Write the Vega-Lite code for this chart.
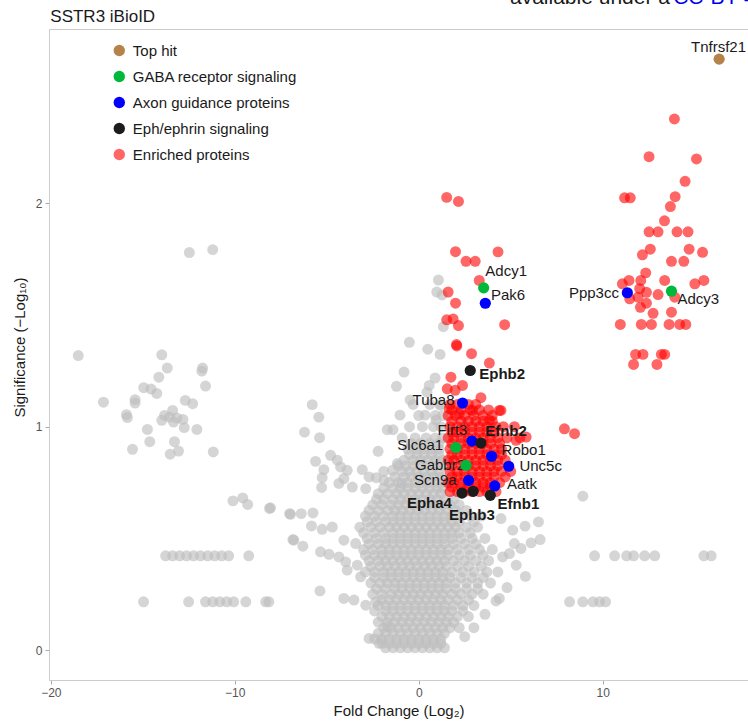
{
"$schema":"https://vega.github.io/schema/vega-lite/v6.json",
"width":699,"height":651,
"autosize":{"type":"none"},
"padding":{"left":49,"top":29,"right":0,"bottom":47},
"background":"white",
"config":{
 "view":{"stroke":"#cccccc","strokeWidth":1},
 "axis":{"grid":false,"domain":true,"domainColor":"#cccccc","tickColor":"#aaaaaa","tickSize":4,"labelFont":"Liberation Sans","labelFontSize":12,"labelColor":"#555555","titleFont":"Liberation Sans","titleFontSize":15,"titleFontWeight":"normal","titleColor":"#1a1a1a"},
 "legend":{"orient":"none","legendX":62.8,"legendY":14,"padding":0,"symbolType":"circle","symbolSize":130,"symbolStrokeWidth":0,"symbolOpacity":1,"labelFont":"Liberation Sans","labelFontSize":15,"labelColor":"#1a1a1a","labelOffset":6,"rowPadding":10,"labelLimit":400}
},
"datasets":{
"grey":[
{"fc":-12.47,"sig":1.78},{"fc":-11.2,"sig":1.793},{"fc":-18.51,"sig":1.319},{"fc":-13.97,"sig":1.322},{"fc":-13.67,"sig":1.263},{"fc":-11.75,"sig":1.263},{"fc":-11.79,"sig":1.249},{"fc":-14.13,"sig":1.222},{"fc":-11.59,"sig":1.182},{"fc":-14.95,"sig":1.175},{"fc":-14.55,"sig":1.169},{"fc":-14.24,"sig":1.149},{"fc":-17.14,"sig":1.11},{"fc":-15.42,"sig":1.121},{"fc":-15.42,"sig":1.106},{"fc":-12.69,"sig":1.118},{"fc":-12.29,"sig":1.103},{"fc":-15.89,"sig":1.054},{"fc":-15.84,"sig":1.041},{"fc":-13.38,"sig":1.073},{"fc":-13.82,"sig":1.051},{"fc":-13.55,"sig":1.043},{"fc":-13.97,"sig":1.029},{"fc":-13.15,"sig":1.039},{"fc":-12.82,"sig":1.033},{"fc":-13.33,"sig":1.021},{"fc":-12.75,"sig":0.996},{"fc":-12.06,"sig":0.988},{"fc":-14.75,"sig":0.988},{"fc":-14.62,"sig":0.933},{"fc":-13.28,"sig":0.933},{"fc":-15.56,"sig":0.899},{"fc":-13.06,"sig":0.891},{"fc":-13.51,"sig":0.877},{"fc":-11.17,"sig":0.887},
{"fc":-13.76,"sig":0.422},{"fc":-13.38,"sig":0.422},{"fc":-13.0,"sig":0.422},{"fc":-12.62,"sig":0.422},{"fc":-12.24,"sig":0.422},{"fc":-11.86,"sig":0.422},{"fc":-11.47,"sig":0.422},{"fc":-11.09,"sig":0.422},{"fc":-10.71,"sig":0.422},{"fc":-10.33,"sig":0.422},{"fc":-9.24,"sig":0.422},
{"fc":-14.96,"sig":0.216},{"fc":-12.51,"sig":0.216},{"fc":-11.59,"sig":0.216},{"fc":-11.2,"sig":0.216},{"fc":-10.82,"sig":0.216},{"fc":-10.44,"sig":0.216},{"fc":-10.06,"sig":0.216},{"fc":-9.4,"sig":0.216},{"fc":-8.32,"sig":0.216},
{"fc":-10.1,"sig":0.668},{"fc":-9.57,"sig":0.681},{"fc":-9.3,"sig":0.652},{"fc":-8.11,"sig":0.634},{"fc":-6.97,"sig":0.608},{"fc":-6.79,"sig":0.492},
{"fc":-1.21,"sig":1.181},{"fc":0.57,"sig":1.185},{"fc":-5.79,"sig":1.099},{"fc":-5.43,"sig":1.043},{"fc":-6.21,"sig":0.976},{"fc":-5.39,"sig":0.951},{"fc":-1.71,"sig":0.987},{"fc":-1.4,"sig":0.987},{"fc":-2.21,"sig":0.89},{"fc":-5.61,"sig":0.845},{"fc":-4.79,"sig":0.872},{"fc":-4.43,"sig":0.85},{"fc":-5.16,"sig":0.808},{"fc":-5.25,"sig":0.772},{"fc":-4.25,"sig":0.82},{"fc":-3.89,"sig":0.805},{"fc":-4.07,"sig":0.768},{"fc":-3.07,"sig":0.808},{"fc":-2.7,"sig":0.775},{"fc":-2.31,"sig":0.772},{"fc":-1.89,"sig":0.76},{"fc":-1.16,"sig":0.835},{"fc":-1.43,"sig":0.805},{"fc":-5.28,"sig":0.728},{"fc":-4.34,"sig":0.746},{"fc":-3.61,"sig":0.73},{"fc":-2.88,"sig":0.723},{"fc":-0.92,"sig":0.746},{"fc":-8.06,"sig":0.637},{"fc":-7.02,"sig":0.611},{"fc":-6.39,"sig":0.611},{"fc":-5.75,"sig":0.614},{"fc":-5.83,"sig":0.556},{"fc":-5.25,"sig":0.541},{"fc":-4.7,"sig":0.551},{"fc":-6.84,"sig":0.495},{"fc":-6.3,"sig":0.465},{"fc":-5.34,"sig":0.44},{"fc":-4.88,"sig":0.429},{"fc":-4.34,"sig":0.417},{"fc":-4.07,"sig":0.492},{"fc":-3.43,"sig":0.477},{"fc":-3.97,"sig":0.395},{"fc":-3.34,"sig":0.38},{"fc":-3.89,"sig":0.358},{"fc":-3.16,"sig":0.328},{"fc":-5.37,"sig":0.265},{"fc":-4.07,"sig":0.231},{"fc":-3.52,"sig":0.224},{"fc":-2.88,"sig":0.201},{"fc":-2.34,"sig":0.216},{"fc":-8.15,"sig":0.216},{"fc":-2.7,"sig":0.052},{"fc":-2.16,"sig":0.03},{"fc":-1.71,"sig":0.104},
{"fc":8.92,"sig":0.689},{"fc":6.51,"sig":0.574},{"fc":5.78,"sig":0.555},{"fc":5.11,"sig":0.537},{"fc":6.6,"sig":0.495},{"fc":6.11,"sig":0.48},{"fc":5.56,"sig":0.455},{"fc":5.2,"sig":0.477},{"fc":4.93,"sig":0.432},{"fc":4.56,"sig":0.417},{"fc":4.47,"sig":0.589},{"fc":9.56,"sig":0.422},{"fc":10.65,"sig":0.422},{"fc":11.3,"sig":0.422},{"fc":11.68,"sig":0.422},{"fc":12.28,"sig":0.422},{"fc":12.83,"sig":0.422},{"fc":8.2,"sig":0.216},{"fc":8.92,"sig":0.216},{"fc":9.47,"sig":0.216},{"fc":9.83,"sig":0.216},{"fc":10.16,"sig":0.216},{"fc":4.38,"sig":0.231},{"fc":15.5,"sig":0.422},{"fc":15.9,"sig":0.422},
{"fc":5.3,"sig":0.38},{"fc":5.8,"sig":0.33},{"fc":4.8,"sig":0.28},{"fc":4.2,"sig":0.22},{"fc":3.6,"sig":0.16},{"fc":3.0,"sig":0.1},{"fc":2.5,"sig":0.06},
{"fc":1.07,"sig":1.657},{"fc":0.98,"sig":1.603},{"fc":1.27,"sig":1.59},{"fc":1.34,"sig":1.448},{"fc":-0.51,"sig":1.378},{"fc":0.49,"sig":1.347},{"fc":1.16,"sig":1.324},{"fc":-0.8,"sig":1.245},{"fc":0.89,"sig":1.218},{"fc":0.45,"sig":1.155},{"fc":-0.47,"sig":1.12},{"fc":1.16,"sig":1.097},{"fc":0.34,"sig":1.052},{"fc":0.94,"sig":1.03},{"fc":-1.02,"sig":1.052},
{"fc":-1.8,"sig":0.01},{"fc":-1.4,"sig":0.01},{"fc":-1.0,"sig":0.01},{"fc":-0.6,"sig":0.01},{"fc":-0.2,"sig":0.01},{"fc":0.2,"sig":0.01},{"fc":0.6,"sig":0.01},{"fc":1.0,"sig":0.01},{"fc":1.4,"sig":0.01},
{"fc":-2.4,"sig":0.05},{"fc":-2.0,"sig":0.05},{"fc":-1.6,"sig":0.05},{"fc":-1.2,"sig":0.05},{"fc":-0.8,"sig":0.05},{"fc":-0.4,"sig":0.05},{"fc":0.0,"sig":0.05},{"fc":0.4,"sig":0.05},{"fc":0.8,"sig":0.05},{"fc":1.2,"sig":0.05},
{"fc":-1.9,"sig":0.1},{"fc":-1.5,"sig":0.1},{"fc":-1.1,"sig":0.1},{"fc":-0.7,"sig":0.1},{"fc":-0.3,"sig":0.1},{"fc":0.1,"sig":0.1},{"fc":0.5,"sig":0.1},{"fc":0.9,"sig":0.1},{"fc":1.3,"sig":0.1},{"fc":1.7,"sig":0.1},{"fc":2.2,"sig":0.1},
{"fc":-2.0,"sig":0.15},{"fc":-1.6,"sig":0.15},{"fc":-1.2,"sig":0.15},{"fc":-0.8,"sig":0.15},{"fc":-0.4,"sig":0.15},{"fc":0.0,"sig":0.15},{"fc":0.4,"sig":0.15},{"fc":0.8,"sig":0.15},{"fc":1.2,"sig":0.15},{"fc":1.6,"sig":0.15},{"fc":2.1,"sig":0.15},{"fc":2.7,"sig":0.15},
{"fc":-2.2,"sig":0.2},{"fc":-1.8,"sig":0.2},{"fc":-1.4,"sig":0.2},{"fc":-1.0,"sig":0.2},{"fc":-0.6,"sig":0.2},{"fc":-0.2,"sig":0.2},{"fc":0.2,"sig":0.2},{"fc":0.6,"sig":0.2},{"fc":1.0,"sig":0.2},{"fc":1.4,"sig":0.2},{"fc":1.9,"sig":0.2},{"fc":2.4,"sig":0.2},{"fc":3.0,"sig":0.2},
{"fc":-2.5,"sig":0.25},{"fc":-2.0,"sig":0.25},{"fc":-1.5,"sig":0.25},{"fc":-1.1,"sig":0.25},{"fc":-0.7,"sig":0.25},{"fc":-0.3,"sig":0.25},{"fc":0.1,"sig":0.25},{"fc":0.5,"sig":0.25},{"fc":0.9,"sig":0.25},{"fc":1.3,"sig":0.25},{"fc":1.8,"sig":0.25},{"fc":2.3,"sig":0.25},{"fc":2.9,"sig":0.25},{"fc":3.5,"sig":0.25},
{"fc":-2.6,"sig":0.3},{"fc":-2.1,"sig":0.3},{"fc":-1.7,"sig":0.3},{"fc":-1.3,"sig":0.3},{"fc":-0.9,"sig":0.3},{"fc":-0.5,"sig":0.3},{"fc":-0.1,"sig":0.3},{"fc":0.3,"sig":0.3},{"fc":0.7,"sig":0.3},{"fc":1.1,"sig":0.3},{"fc":1.5,"sig":0.3},{"fc":2.0,"sig":0.3},{"fc":2.6,"sig":0.3},{"fc":3.2,"sig":0.3},{"fc":3.9,"sig":0.3},
{"fc":-2.9,"sig":0.35},{"fc":-2.4,"sig":0.35},{"fc":-1.9,"sig":0.35},{"fc":-1.5,"sig":0.35},{"fc":-1.1,"sig":0.35},{"fc":-0.7,"sig":0.35},{"fc":-0.3,"sig":0.35},{"fc":0.1,"sig":0.35},{"fc":0.5,"sig":0.35},{"fc":0.9,"sig":0.35},{"fc":1.3,"sig":0.35},{"fc":1.8,"sig":0.35},{"fc":2.4,"sig":0.35},{"fc":3.0,"sig":0.35},{"fc":3.7,"sig":0.35},{"fc":4.3,"sig":0.35},
{"fc":-2.7,"sig":0.4},{"fc":-2.2,"sig":0.4},{"fc":-1.8,"sig":0.4},{"fc":-1.4,"sig":0.4},{"fc":-1.0,"sig":0.4},{"fc":-0.6,"sig":0.4},{"fc":-0.2,"sig":0.4},{"fc":0.2,"sig":0.4},{"fc":0.6,"sig":0.4},{"fc":1.0,"sig":0.4},{"fc":1.4,"sig":0.4},{"fc":1.9,"sig":0.4},{"fc":2.5,"sig":0.4},{"fc":3.1,"sig":0.4},{"fc":3.8,"sig":0.4},
{"fc":-3.0,"sig":0.45},{"fc":-2.5,"sig":0.45},{"fc":-2.0,"sig":0.45},{"fc":-1.6,"sig":0.45},{"fc":-1.2,"sig":0.45},{"fc":-0.8,"sig":0.45},{"fc":-0.4,"sig":0.45},{"fc":0.0,"sig":0.45},{"fc":0.4,"sig":0.45},{"fc":0.8,"sig":0.45},{"fc":1.2,"sig":0.45},{"fc":1.6,"sig":0.45},{"fc":2.1,"sig":0.45},{"fc":2.7,"sig":0.45},{"fc":3.3,"sig":0.45},{"fc":4.0,"sig":0.45},
{"fc":-2.8,"sig":0.5},{"fc":-2.3,"sig":0.5},{"fc":-1.8,"sig":0.5},{"fc":-1.4,"sig":0.5},{"fc":-1.0,"sig":0.5},{"fc":-0.6,"sig":0.5},{"fc":-0.2,"sig":0.5},{"fc":0.2,"sig":0.5},{"fc":0.6,"sig":0.5},{"fc":1.0,"sig":0.5},{"fc":1.4,"sig":0.5},{"fc":1.8,"sig":0.5},{"fc":2.3,"sig":0.5},{"fc":2.9,"sig":0.5},{"fc":3.6,"sig":0.5},
{"fc":-3.2,"sig":0.55},{"fc":-2.6,"sig":0.55},{"fc":-2.1,"sig":0.55},{"fc":-1.6,"sig":0.55},{"fc":-1.2,"sig":0.55},{"fc":-0.8,"sig":0.55},{"fc":-0.4,"sig":0.55},{"fc":0.0,"sig":0.55},{"fc":0.4,"sig":0.55},{"fc":0.8,"sig":0.55},{"fc":1.2,"sig":0.55},{"fc":1.6,"sig":0.55},{"fc":2.0,"sig":0.55},{"fc":2.6,"sig":0.55},{"fc":3.2,"sig":0.55},
{"fc":-2.9,"sig":0.6},{"fc":-2.4,"sig":0.6},{"fc":-1.9,"sig":0.6},{"fc":-1.4,"sig":0.6},{"fc":-1.0,"sig":0.6},{"fc":-0.6,"sig":0.6},{"fc":-0.2,"sig":0.6},{"fc":0.2,"sig":0.6},{"fc":0.6,"sig":0.6},{"fc":1.0,"sig":0.6},{"fc":1.4,"sig":0.6},{"fc":1.8,"sig":0.6},{"fc":2.3,"sig":0.6},{"fc":2.8,"sig":0.6},{"fc":3.4,"sig":0.6},
{"fc":-2.5,"sig":0.65},{"fc":-2.0,"sig":0.65},{"fc":-1.5,"sig":0.65},{"fc":-1.1,"sig":0.65},{"fc":-0.7,"sig":0.65},{"fc":-0.3,"sig":0.65},{"fc":0.1,"sig":0.65},{"fc":0.5,"sig":0.65},{"fc":0.9,"sig":0.65},{"fc":1.3,"sig":0.65},{"fc":1.7,"sig":0.65},{"fc":2.2,"sig":0.65},
{"fc":-2.2,"sig":0.7},{"fc":-1.7,"sig":0.7},{"fc":-1.2,"sig":0.7},{"fc":-0.8,"sig":0.7},{"fc":-0.4,"sig":0.7},{"fc":0.0,"sig":0.7},{"fc":0.4,"sig":0.7},{"fc":0.8,"sig":0.7},{"fc":1.2,"sig":0.7},
{"fc":-1.6,"sig":0.75},{"fc":-1.1,"sig":0.75},{"fc":-0.6,"sig":0.75},{"fc":-0.2,"sig":0.75},{"fc":0.2,"sig":0.75},{"fc":0.6,"sig":0.75},{"fc":1.0,"sig":0.75},{"fc":1.4,"sig":0.75},
{"fc":-1.9,"sig":0.8},{"fc":-0.9,"sig":0.8},{"fc":-0.5,"sig":0.8},{"fc":-0.1,"sig":0.8},{"fc":0.3,"sig":0.8},{"fc":0.7,"sig":0.8},{"fc":1.1,"sig":0.8},
{"fc":-0.8,"sig":0.85},{"fc":-0.3,"sig":0.85},{"fc":0.1,"sig":0.85},{"fc":0.5,"sig":0.85},{"fc":0.9,"sig":0.85},{"fc":1.3,"sig":0.85},
{"fc":-0.6,"sig":0.9},{"fc":-0.1,"sig":0.9},{"fc":0.3,"sig":0.9},{"fc":0.7,"sig":0.9},{"fc":1.1,"sig":0.9},
{"fc":-0.9,"sig":0.95},{"fc":-0.2,"sig":0.95},{"fc":0.4,"sig":0.95},{"fc":0.9,"sig":0.95},{"fc":1.3,"sig":0.95},
{"fc":-0.5,"sig":1.0},{"fc":0.2,"sig":1.0},{"fc":0.8,"sig":1.0},{"fc":1.2,"sig":1.0},
{"fc":0.0,"sig":1.05},{"fc":0.9,"sig":1.05},{"fc":1.3,"sig":1.05},
{"fc":-0.3,"sig":1.1},{"fc":0.6,"sig":1.1},{"fc":1.2,"sig":1.1},
{"fc":-2.0,"sig":0.03},{"fc":-1.6,"sig":0.03},{"fc":-1.2,"sig":0.03},{"fc":-0.8,"sig":0.03},{"fc":-0.4,"sig":0.03},{"fc":0.0,"sig":0.03},{"fc":0.4,"sig":0.03},{"fc":0.8,"sig":0.03},{"fc":1.2,"sig":0.03},
{"fc":-2.2,"sig":0.075},{"fc":-1.8,"sig":0.075},{"fc":-1.4,"sig":0.075},{"fc":-1.0,"sig":0.075},{"fc":-0.6,"sig":0.075},{"fc":-0.2,"sig":0.075},{"fc":0.2,"sig":0.075},{"fc":0.6,"sig":0.075},{"fc":1.0,"sig":0.075},{"fc":1.4,"sig":0.075},
{"fc":-2.2,"sig":0.125},{"fc":-1.7,"sig":0.125},{"fc":-1.3,"sig":0.125},{"fc":-0.9,"sig":0.125},{"fc":-0.5,"sig":0.125},{"fc":-0.1,"sig":0.125},{"fc":0.3,"sig":0.125},{"fc":0.7,"sig":0.125},{"fc":1.1,"sig":0.125},{"fc":1.5,"sig":0.125},{"fc":1.9,"sig":0.125},
{"fc":-2.4,"sig":0.175},{"fc":-1.8,"sig":0.175},{"fc":-1.4,"sig":0.175},{"fc":-1.0,"sig":0.175},{"fc":-0.6,"sig":0.175},{"fc":-0.2,"sig":0.175},{"fc":0.2,"sig":0.175},{"fc":0.6,"sig":0.175},{"fc":1.0,"sig":0.175},{"fc":1.4,"sig":0.175},{"fc":1.8,"sig":0.175},{"fc":2.4,"sig":0.175},
{"fc":-2.0,"sig":0.225},{"fc":-1.6,"sig":0.225},{"fc":-1.2,"sig":0.225},{"fc":-0.8,"sig":0.225},{"fc":-0.4,"sig":0.225},{"fc":0.0,"sig":0.225},{"fc":0.4,"sig":0.225},{"fc":0.8,"sig":0.225},{"fc":1.2,"sig":0.225},{"fc":1.6,"sig":0.225},{"fc":2.1,"sig":0.225},{"fc":2.7,"sig":0.225},
{"fc":-2.3,"sig":0.275},{"fc":-1.8,"sig":0.275},{"fc":-1.3,"sig":0.275},{"fc":-0.9,"sig":0.275},{"fc":-0.5,"sig":0.275},{"fc":-0.1,"sig":0.275},{"fc":0.3,"sig":0.275},{"fc":0.7,"sig":0.275},{"fc":1.1,"sig":0.275},{"fc":1.5,"sig":0.275},{"fc":2.0,"sig":0.275},{"fc":2.6,"sig":0.275},{"fc":3.2,"sig":0.275},
{"fc":-2.4,"sig":0.325},{"fc":-1.9,"sig":0.325},{"fc":-1.5,"sig":0.325},{"fc":-1.1,"sig":0.325},{"fc":-0.7,"sig":0.325},{"fc":-0.3,"sig":0.325},{"fc":0.1,"sig":0.325},{"fc":0.5,"sig":0.325},{"fc":0.9,"sig":0.325},{"fc":1.3,"sig":0.325},{"fc":1.7,"sig":0.325},{"fc":2.3,"sig":0.325},{"fc":2.9,"sig":0.325},{"fc":3.5,"sig":0.325},
{"fc":-2.6,"sig":0.375},{"fc":-2.1,"sig":0.375},{"fc":-1.7,"sig":0.375},{"fc":-1.3,"sig":0.375},{"fc":-0.9,"sig":0.375},{"fc":-0.5,"sig":0.375},{"fc":-0.1,"sig":0.375},{"fc":0.3,"sig":0.375},{"fc":0.7,"sig":0.375},{"fc":1.1,"sig":0.375},{"fc":1.5,"sig":0.375},{"fc":2.1,"sig":0.375},{"fc":2.7,"sig":0.375},{"fc":3.4,"sig":0.375},
{"fc":-2.9,"sig":0.425},{"fc":-2.4,"sig":0.425},{"fc":-2.0,"sig":0.425},{"fc":-1.6,"sig":0.425},{"fc":-1.2,"sig":0.425},{"fc":-0.8,"sig":0.425},{"fc":-0.4,"sig":0.425},{"fc":0.0,"sig":0.425},{"fc":0.4,"sig":0.425},{"fc":0.8,"sig":0.425},{"fc":1.2,"sig":0.425},{"fc":1.6,"sig":0.425},{"fc":2.2,"sig":0.425},{"fc":2.8,"sig":0.425},{"fc":3.5,"sig":0.425},
{"fc":-2.7,"sig":0.475},{"fc":-2.2,"sig":0.475},{"fc":-1.8,"sig":0.475},{"fc":-1.4,"sig":0.475},{"fc":-1.0,"sig":0.475},{"fc":-0.6,"sig":0.475},{"fc":-0.2,"sig":0.475},{"fc":0.2,"sig":0.475},{"fc":0.6,"sig":0.475},{"fc":1.0,"sig":0.475},{"fc":1.4,"sig":0.475},{"fc":1.9,"sig":0.475},{"fc":2.5,"sig":0.475},{"fc":3.1,"sig":0.475},
{"fc":-3.0,"sig":0.525},{"fc":-2.4,"sig":0.525},{"fc":-1.9,"sig":0.525},{"fc":-1.4,"sig":0.525},{"fc":-1.0,"sig":0.525},{"fc":-0.6,"sig":0.525},{"fc":-0.2,"sig":0.525},{"fc":0.2,"sig":0.525},{"fc":0.6,"sig":0.525},{"fc":1.0,"sig":0.525},{"fc":1.4,"sig":0.525},{"fc":1.8,"sig":0.525},{"fc":2.2,"sig":0.525},{"fc":2.8,"sig":0.525},
{"fc":-2.8,"sig":0.575},{"fc":-2.3,"sig":0.575},{"fc":-1.8,"sig":0.575},{"fc":-1.4,"sig":0.575},{"fc":-1.0,"sig":0.575},{"fc":-0.6,"sig":0.575},{"fc":-0.2,"sig":0.575},{"fc":0.2,"sig":0.575},{"fc":0.6,"sig":0.575},{"fc":1.0,"sig":0.575},{"fc":1.4,"sig":0.575},{"fc":1.8,"sig":0.575},{"fc":2.2,"sig":0.575},{"fc":3.0,"sig":0.575},
{"fc":-2.7,"sig":0.625},{"fc":-2.2,"sig":0.625},{"fc":-1.7,"sig":0.625},{"fc":-1.3,"sig":0.625},{"fc":-0.9,"sig":0.625},{"fc":-0.5,"sig":0.625},{"fc":-0.1,"sig":0.625},{"fc":0.3,"sig":0.625},{"fc":0.7,"sig":0.625},{"fc":1.1,"sig":0.625},{"fc":1.5,"sig":0.625},{"fc":2.0,"sig":0.625},{"fc":2.6,"sig":0.625},
{"fc":-2.3,"sig":0.675},{"fc":-1.9,"sig":0.675},{"fc":-1.4,"sig":0.675},{"fc":-1.0,"sig":0.675},{"fc":-0.6,"sig":0.675},{"fc":-0.2,"sig":0.675},{"fc":0.2,"sig":0.675},{"fc":0.6,"sig":0.675},{"fc":1.0,"sig":0.675},{"fc":1.4,"sig":0.675},{"fc":1.9,"sig":0.675},
{"fc":-1.9,"sig":0.725},{"fc":-1.4,"sig":0.725},{"fc":-1.0,"sig":0.725},{"fc":-0.6,"sig":0.725},{"fc":-0.2,"sig":0.725},{"fc":0.2,"sig":0.725},{"fc":0.6,"sig":0.725},{"fc":1.0,"sig":0.725},{"fc":1.3,"sig":0.725},
{"fc":-1.3,"sig":0.775},{"fc":-0.8,"sig":0.775},{"fc":-0.4,"sig":0.775},{"fc":0.0,"sig":0.775},{"fc":0.4,"sig":0.775},{"fc":0.8,"sig":0.775},{"fc":1.2,"sig":0.775},
{"fc":-1.1,"sig":0.825},{"fc":-0.7,"sig":0.825},{"fc":-0.3,"sig":0.825},{"fc":0.1,"sig":0.825},{"fc":0.5,"sig":0.825},{"fc":0.9,"sig":0.825},{"fc":1.3,"sig":0.825},
{"fc":-0.5,"sig":0.875},{"fc":-0.1,"sig":0.875},{"fc":0.3,"sig":0.875},{"fc":0.7,"sig":0.875},{"fc":1.1,"sig":0.875},
{"fc":-0.4,"sig":0.925},{"fc":0.1,"sig":0.925},{"fc":0.6,"sig":0.925},{"fc":1.1,"sig":0.925}
],
"enriched":[
{"fc":13.9,"sig":2.378},{"fc":12.52,"sig":2.209},{"fc":15.1,"sig":2.199},{"fc":14.48,"sig":2.099},{"fc":11.19,"sig":2.025},{"fc":11.5,"sig":2.025},{"fc":13.94,"sig":2.03},{"fc":13.68,"sig":1.986},{"fc":13.36,"sig":1.922},{"fc":12.52,"sig":1.873},{"fc":13.01,"sig":1.873},{"fc":14.04,"sig":1.873},{"fc":14.64,"sig":1.873},{"fc":12.59,"sig":1.795},{"fc":12.16,"sig":1.77},{"fc":14.7,"sig":1.795},{"fc":15.43,"sig":1.781},{"fc":13.74,"sig":1.741},{"fc":14.41,"sig":1.741},{"fc":12.34,"sig":1.689},{"fc":11.43,"sig":1.655},{"fc":11.07,"sig":1.64},{"fc":12.07,"sig":1.655},{"fc":13.37,"sig":1.655},{"fc":15.01,"sig":1.64},{"fc":15.5,"sig":1.655},{"fc":12.01,"sig":1.618},{"fc":12.38,"sig":1.602},{"fc":11.47,"sig":1.573},{"fc":11.92,"sig":1.58},{"fc":13.01,"sig":1.592},{"fc":13.92,"sig":1.58},{"fc":12.38,"sig":1.553},{"fc":12.05,"sig":1.535},{"fc":12.74,"sig":1.508},{"fc":13.74,"sig":1.513},{"fc":10.96,"sig":1.458},{"fc":12.1,"sig":1.458},{"fc":12.65,"sig":1.458},{"fc":13.61,"sig":1.458},{"fc":14.19,"sig":1.458},{"fc":14.52,"sig":1.458},{"fc":11.79,"sig":1.324},{"fc":12.19,"sig":1.324},{"fc":13.19,"sig":1.324},{"fc":13.37,"sig":1.324},{"fc":11.68,"sig":1.279},{"fc":12.95,"sig":1.279},
{"fc":1.52,"sig":2.027},{"fc":2.16,"sig":2.009},{"fc":2.0,"sig":1.784},{"fc":2.57,"sig":1.741},{"fc":3.07,"sig":1.741},{"fc":4.31,"sig":1.783},{"fc":3.29,"sig":1.655},{"fc":1.6,"sig":1.603},{"fc":2.0,"sig":1.553},{"fc":1.52,"sig":1.479},{"fc":1.87,"sig":1.483},{"fc":2.16,"sig":1.453},{"fc":4.67,"sig":1.457},{"fc":2.05,"sig":1.368},{"fc":2.07,"sig":1.362},{"fc":2.87,"sig":1.327},{"fc":3.84,"sig":1.285},{"fc":1.75,"sig":1.222},
{"fc":2.38,"sig":1.185},{"fc":1.55,"sig":1.17},{"fc":3.38,"sig":1.13},{"fc":1.98,"sig":1.163},{"fc":4.38,"sig":1.073},{"fc":2.93,"sig":1.073},{"fc":2.2,"sig":1.058},{"fc":1.66,"sig":1.081},{"fc":7.92,"sig":0.991},{"fc":8.47,"sig":0.969},{"fc":3.84,"sig":1.029},{"fc":4.2,"sig":0.999},{"fc":5.84,"sig":0.954},{"fc":5.29,"sig":0.939},{"fc":4.47,"sig":1.073},
{"fc":1.7,"sig":1.1},{"fc":2.1,"sig":1.1},{"fc":2.7,"sig":1.1},{"fc":3.1,"sig":1.1},
{"fc":1.6,"sig":1.05},{"fc":2.0,"sig":1.05},{"fc":2.5,"sig":1.05},{"fc":3.0,"sig":1.05},{"fc":3.5,"sig":1.05},{"fc":4.0,"sig":1.05},
{"fc":1.7,"sig":1.0},{"fc":2.1,"sig":1.0},{"fc":2.5,"sig":1.0},{"fc":2.9,"sig":1.0},{"fc":3.3,"sig":1.0},{"fc":3.7,"sig":1.0},{"fc":4.6,"sig":1.0},{"fc":5.2,"sig":1.0},
{"fc":1.6,"sig":0.95},{"fc":1.9,"sig":0.95},{"fc":2.3,"sig":0.95},{"fc":2.7,"sig":0.95},{"fc":3.1,"sig":0.95},{"fc":3.5,"sig":0.95},{"fc":3.9,"sig":0.95},{"fc":4.3,"sig":0.95},{"fc":4.8,"sig":0.95},{"fc":5.5,"sig":0.95},
{"fc":1.7,"sig":0.9},{"fc":2.1,"sig":0.9},{"fc":2.5,"sig":0.9},{"fc":2.9,"sig":0.9},{"fc":3.3,"sig":0.9},{"fc":3.7,"sig":0.9},{"fc":4.1,"sig":0.9},{"fc":4.5,"sig":0.9},
{"fc":1.6,"sig":0.85},{"fc":1.9,"sig":0.85},{"fc":2.3,"sig":0.85},{"fc":2.7,"sig":0.85},{"fc":3.1,"sig":0.85},{"fc":3.5,"sig":0.85},{"fc":3.9,"sig":0.85},{"fc":4.3,"sig":0.85},{"fc":4.7,"sig":0.85},
{"fc":1.7,"sig":0.8},{"fc":2.1,"sig":0.8},{"fc":2.5,"sig":0.8},{"fc":2.9,"sig":0.8},{"fc":3.3,"sig":0.8},{"fc":3.7,"sig":0.8},{"fc":4.1,"sig":0.8},{"fc":4.5,"sig":0.8},{"fc":5.0,"sig":0.8},
{"fc":1.6,"sig":0.75},{"fc":1.9,"sig":0.75},{"fc":2.3,"sig":0.75},{"fc":2.7,"sig":0.75},{"fc":3.1,"sig":0.75},{"fc":3.5,"sig":0.75},{"fc":3.9,"sig":0.75},{"fc":4.4,"sig":0.75},
{"fc":1.7,"sig":0.71},{"fc":2.1,"sig":0.71},{"fc":2.5,"sig":0.71},{"fc":2.9,"sig":0.71},{"fc":3.3,"sig":0.71},{"fc":3.7,"sig":0.71},{"fc":4.2,"sig":0.71},
{"fc":1.8,"sig":1.075},{"fc":2.3,"sig":1.075},{"fc":2.8,"sig":1.075},{"fc":3.3,"sig":1.075},{"fc":3.8,"sig":1.075},
{"fc":1.8,"sig":1.025},{"fc":2.3,"sig":1.025},{"fc":2.7,"sig":1.025},{"fc":3.1,"sig":1.025},{"fc":3.5,"sig":1.025},{"fc":4.0,"sig":1.025},
{"fc":1.8,"sig":0.975},{"fc":2.1,"sig":0.975},{"fc":2.5,"sig":0.975},{"fc":2.9,"sig":0.975},{"fc":3.3,"sig":0.975},{"fc":3.7,"sig":0.975},{"fc":4.1,"sig":0.975},
{"fc":1.8,"sig":0.925},{"fc":2.3,"sig":0.925},{"fc":2.7,"sig":0.925},{"fc":3.1,"sig":0.925},{"fc":3.5,"sig":0.925},{"fc":3.9,"sig":0.925},{"fc":4.4,"sig":0.925},
{"fc":1.8,"sig":0.875},{"fc":2.1,"sig":0.875},{"fc":2.5,"sig":0.875},{"fc":2.9,"sig":0.875},{"fc":3.3,"sig":0.875},{"fc":3.7,"sig":0.875},{"fc":4.1,"sig":0.875},{"fc":4.5,"sig":0.875},
{"fc":1.8,"sig":0.825},{"fc":2.3,"sig":0.825},{"fc":2.7,"sig":0.825},{"fc":3.1,"sig":0.825},{"fc":3.5,"sig":0.825},{"fc":3.9,"sig":0.825},{"fc":4.3,"sig":0.825},
{"fc":1.8,"sig":0.775},{"fc":2.1,"sig":0.775},{"fc":2.5,"sig":0.775},{"fc":2.9,"sig":0.775},{"fc":3.3,"sig":0.775},{"fc":3.7,"sig":0.775},{"fc":4.1,"sig":0.775},{"fc":4.7,"sig":0.775},
{"fc":1.8,"sig":0.73},{"fc":2.3,"sig":0.73},{"fc":2.7,"sig":0.73},{"fc":3.1,"sig":0.73},{"fc":3.5,"sig":0.73},{"fc":3.9,"sig":0.73}
],
"hits":[
{"gene":"Tnfrsf21","category":"Top hit","fc":16.33,"sig":2.646},
{"gene":"Slc6a1","category":"GABA receptor signaling","fc":2.02,"sig":0.907},
{"gene":"Gabbr2","category":"GABA receptor signaling","fc":2.57,"sig":0.827},
{"gene":"Adcy1","category":"GABA receptor signaling","fc":3.53,"sig":1.622},
{"gene":"Adcy3","category":"GABA receptor signaling","fc":13.74,"sig":1.607},
{"gene":"Pak6","category":"Axon guidance proteins","fc":3.62,"sig":1.553},
{"gene":"Ppp3cc","category":"Axon guidance proteins","fc":11.34,"sig":1.6},
{"gene":"Tuba8","category":"Axon guidance proteins","fc":2.38,"sig":1.106},
{"gene":"Flrt3","category":"Axon guidance proteins","fc":2.89,"sig":0.936},
{"gene":"Robo1","category":"Axon guidance proteins","fc":3.96,"sig":0.868},
{"gene":"Unc5c","category":"Axon guidance proteins","fc":4.89,"sig":0.823},
{"gene":"Scn9a","category":"Axon guidance proteins","fc":2.71,"sig":0.76},
{"gene":"Aatk","category":"Axon guidance proteins","fc":4.13,"sig":0.735},
{"gene":"Ephb2","category":"Eph/ephrin signaling","fc":2.8,"sig":1.252},
{"gene":"Efnb2","category":"Eph/ephrin signaling","fc":3.38,"sig":0.927},
{"gene":"Epha4","category":"Eph/ephrin signaling","fc":2.35,"sig":0.703},
{"gene":"Ephb3","category":"Eph/ephrin signaling","fc":2.96,"sig":0.711},
{"gene":"Efnb1","category":"Eph/ephrin signaling","fc":3.89,"sig":0.693}
],
"notes":[
{"label":"SSTR3 iBioID","fc":-20.03,"sig":2.812},
{"label":"available under a","fc":4.96,"sig":2.893},
{"label":"CC-BY 4.0 International license","fc":13.83,"sig":2.893}
]
},
"encoding":{
 "x":{"field":"fc","type":"quantitative","scale":{"domain":[-20.1,17.9],"nice":false,"zero":false},"axis":{"values":[-20,-10,0,10],"title":"Fold Change (Log₂)","labelFlush":false,"labelPadding":3,"titlePadding":5}},
 "y":{"field":"sig","type":"quantitative","scale":{"domain":[-0.134,2.781],"nice":false,"zero":false},"axis":{"values":[0,1,2],"title":"Significance (−Log₁₀)","labelPadding":3,"titlePadding":8,"titleY":318}}
},
"layer":[
 {"data":{"name":"grey"},"mark":{"type":"circle","size":120,"color":"#bebebe","opacity":0.65}},
 {"data":{"name":"enriched"},"mark":{"type":"circle","size":120,"color":"#ff0000","opacity":0.6}},
 {"data":{"values":[{}]},"mark":{"type":"rule","strokeDash":[4,3],"color":"#333333","strokeWidth":1},"encoding":{"x":{"datum":1.5},"y":{"datum":-0.134},"y2":{"datum":2.781}}},
 {"data":{"values":[{}]},"mark":{"type":"rule","strokeDash":[4,3],"color":"#333333","strokeWidth":1},"encoding":{"y":{"datum":0.7},"x":{"datum":-20.1},"x2":{"datum":17.9}}},
 {"data":{"name":"hits"},"transform":[{"filter":"datum.gene==='Tnfrsf21'"}],"mark":{"type":"text","font":"Liberation Sans","fontSize":15,"color":"#1a1a1a","baseline":"middle","align":"center","dx":-0.6,"dy":-12.5},"encoding":{"text":{"field":"gene"}}},
 {"data":{"name":"hits"},"transform":[{"filter":"datum.gene==='Ppp3cc'"}],"mark":{"type":"text","font":"Liberation Sans","fontSize":15,"color":"#1a1a1a","baseline":"middle","align":"right","dx":-8.4,"dy":0},"encoding":{"text":{"field":"gene"}}},
 {"data":{"name":"hits"},"transform":[{"filter":"datum.gene==='Adcy3'"}],"mark":{"type":"text","font":"Liberation Sans","fontSize":15,"color":"#1a1a1a","baseline":"middle","align":"left","dx":6,"dy":7.6},"encoding":{"text":{"field":"gene"}}},
 {"data":{"name":"hits"},"transform":[{"filter":"datum.gene==='Adcy1'"}],"mark":{"type":"text","font":"Liberation Sans","fontSize":15,"color":"#1a1a1a","baseline":"middle","align":"left","dx":1.7,"dy":-16.6},"encoding":{"text":{"field":"gene"}}},
 {"data":{"name":"hits"},"transform":[{"filter":"datum.gene==='Pak6'"}],"mark":{"type":"text","font":"Liberation Sans","fontSize":15,"color":"#1a1a1a","baseline":"middle","align":"left","dx":5.7,"dy":-8.7},"encoding":{"text":{"field":"gene"}}},
 {"data":{"name":"hits"},"transform":[{"filter":"datum.gene==='Tuba8'"}],"mark":{"type":"text","font":"Liberation Sans","fontSize":15,"color":"#1a1a1a","baseline":"middle","align":"right","dx":-8,"dy":-3.4},"encoding":{"text":{"field":"gene"}}},
 {"data":{"name":"hits"},"transform":[{"filter":"datum.gene==='Flrt3'"}],"mark":{"type":"text","font":"Liberation Sans","fontSize":15,"color":"#1a1a1a","baseline":"middle","align":"right","dx":-4.5,"dy":-10.7},"encoding":{"text":{"field":"gene"}}},
 {"data":{"name":"hits"},"transform":[{"filter":"datum.gene==='Slc6a1'"}],"mark":{"type":"text","font":"Liberation Sans","fontSize":15,"color":"#1a1a1a","baseline":"middle","align":"right","dx":-12.7,"dy":-2.3},"encoding":{"text":{"field":"gene"}}},
 {"data":{"name":"hits"},"transform":[{"filter":"datum.gene==='Robo1'"}],"mark":{"type":"text","font":"Liberation Sans","fontSize":15,"color":"#1a1a1a","baseline":"middle","align":"left","dx":10,"dy":-6.7},"encoding":{"text":{"field":"gene"}}},
 {"data":{"name":"hits"},"transform":[{"filter":"datum.gene==='Unc5c'"}],"mark":{"type":"text","font":"Liberation Sans","fontSize":15,"color":"#1a1a1a","baseline":"middle","align":"left","dx":10.7,"dy":0},"encoding":{"text":{"field":"gene"}}},
 {"data":{"name":"hits"},"transform":[{"filter":"datum.gene==='Gabbr2'"}],"mark":{"type":"text","font":"Liberation Sans","fontSize":15,"color":"#1a1a1a","baseline":"middle","align":"right","dx":-1,"dy":-0.7},"encoding":{"text":{"field":"gene"}}},
 {"data":{"name":"hits"},"transform":[{"filter":"datum.gene==='Scn9a'"}],"mark":{"type":"text","font":"Liberation Sans","fontSize":15,"color":"#1a1a1a","baseline":"middle","align":"right","dx":-12,"dy":0},"encoding":{"text":{"field":"gene"}}},
 {"data":{"name":"hits"},"transform":[{"filter":"datum.gene==='Aatk'"}],"mark":{"type":"text","font":"Liberation Sans","fontSize":15,"color":"#1a1a1a","baseline":"middle","align":"left","dx":12.3,"dy":-2.3},"encoding":{"text":{"field":"gene"}}},
 {"data":{"name":"hits"},"transform":[{"filter":"datum.gene==='Ephb2'"}],"mark":{"type":"text","font":"Liberation Sans","fontSize":15,"fontWeight":"bold","color":"#1a1a1a","baseline":"middle","align":"left","dx":9,"dy":4},"encoding":{"text":{"field":"gene"}}},
 {"data":{"name":"hits"},"transform":[{"filter":"datum.gene==='Efnb2'"}],"mark":{"type":"text","font":"Liberation Sans","fontSize":15,"fontWeight":"bold","color":"#1a1a1a","baseline":"middle","align":"left","dx":4.3,"dy":-12},"encoding":{"text":{"field":"gene"}}},
 {"data":{"name":"hits"},"transform":[{"filter":"datum.gene==='Epha4'"}],"mark":{"type":"text","font":"Liberation Sans","fontSize":15,"fontWeight":"bold","color":"#1a1a1a","baseline":"middle","align":"right","dx":-10,"dy":10},"encoding":{"text":{"field":"gene"}}},
 {"data":{"name":"hits"},"transform":[{"filter":"datum.gene==='Ephb3'"}],"mark":{"type":"text","font":"Liberation Sans","fontSize":15,"fontWeight":"bold","color":"#1a1a1a","baseline":"middle","align":"center","dx":-1.3,"dy":24},"encoding":{"text":{"field":"gene"}}},
 {"data":{"name":"hits"},"transform":[{"filter":"datum.gene==='Efnb1'"}],"mark":{"type":"text","font":"Liberation Sans","fontSize":15,"fontWeight":"bold","color":"#1a1a1a","baseline":"middle","align":"left","dx":7.3,"dy":9},"encoding":{"text":{"field":"gene"}}},
 {"data":{"name":"hits"},"mark":{"type":"circle","size":125,"opacity":1},"encoding":{"color":{"field":"category","type":"nominal","scale":{"domain":["Top hit","GABA receptor signaling","Axon guidance proteins","Eph/ephrin signaling","Enriched proteins"],"range":["#b5834a","#00b83a","#0000ff","#1c1c1c","#ff6666"]},"legend":{"title":null}}}},
 {"data":{"name":"notes"},"transform":[{"filter":"datum.label==='SSTR3 iBioID'"}],"mark":{"type":"text","font":"Liberation Sans","fontSize":17,"color":"#1a1a1a","align":"left","baseline":"alphabetic"},"encoding":{"text":{"field":"label"}}},
 {"data":{"name":"notes"},"transform":[{"filter":"datum.label==='available under a'"}],"mark":{"type":"text","font":"Liberation Sans","fontSize":21,"color":"#1a1a1a","align":"left","baseline":"alphabetic"},"encoding":{"text":{"field":"label"}}},
 {"data":{"name":"notes"},"transform":[{"filter":"datum.label==='CC-BY 4.0 International license'"}],"mark":{"type":"text","font":"Liberation Sans","fontSize":21,"color":"#0000ee","align":"left","baseline":"alphabetic"},"encoding":{"text":{"field":"label"}}}
]
}
